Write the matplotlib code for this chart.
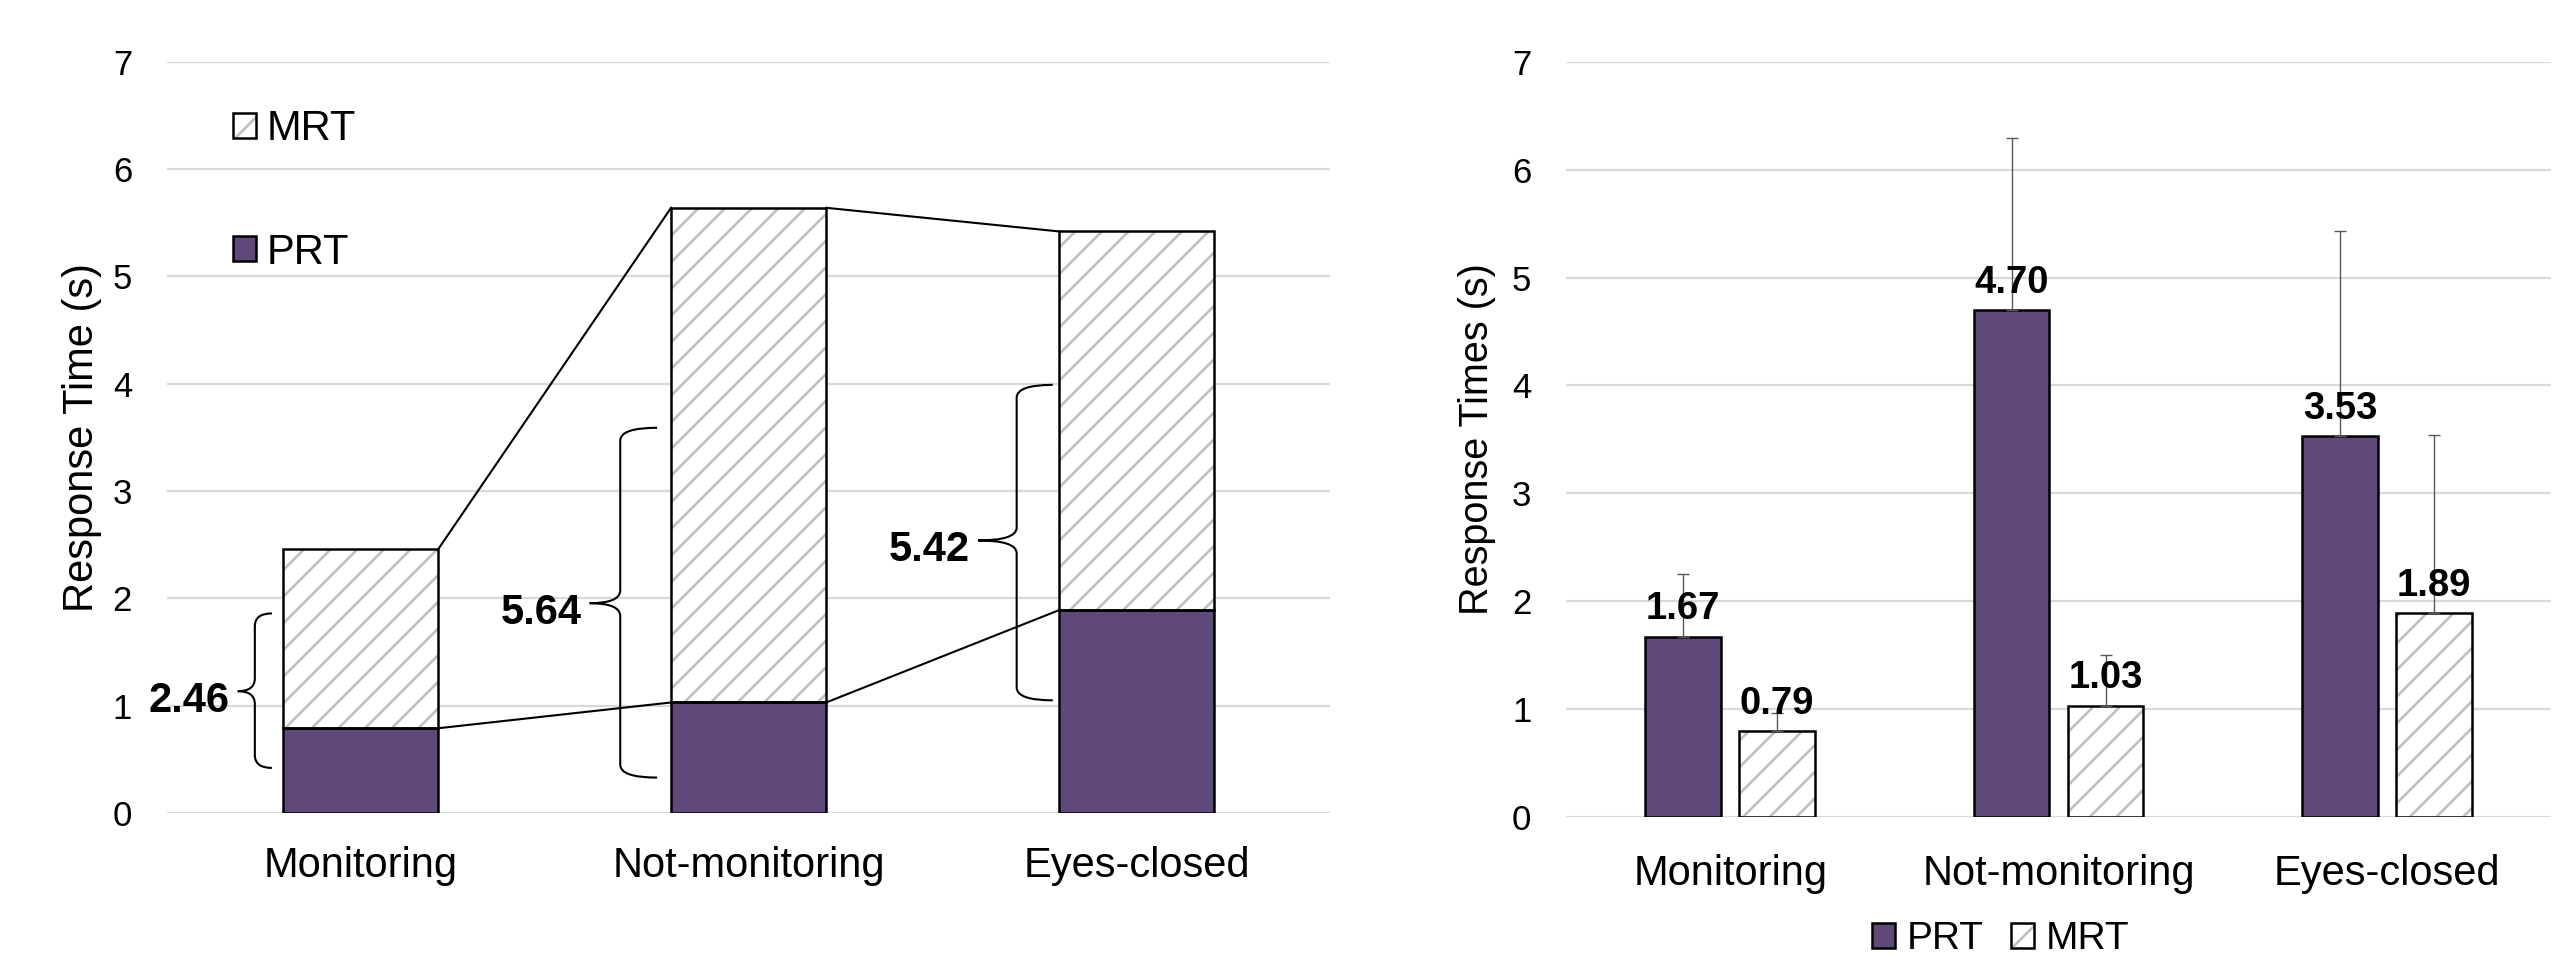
import numpy as np
import matplotlib
matplotlib.use('Agg')
import matplotlib.pyplot as plt
from matplotlib.patches import Patch, PathPatch
from matplotlib.path import Path
from matplotlib.legend_handler import HandlerTuple

DPI = 80
S = 100 / DPI   # sizes below were tuned for 100 dpi

plt.rcParams['font.family'] = ['Liberation Sans', 'DejaVu Sans']
plt.rcParams['hatch.linewidth'] = 2.4

categories = ['Monitoring', 'Not-monitoring', 'Eyes-closed']

# left panel: stacked bars (PRT at the bottom, MRT on top)
stack_prt = [0.79, 1.03, 1.89]
stack_total = [2.46, 5.64, 5.42]
total_labels = ['2.46', '5.64', '5.42']
brace_low = [0.42, 0.33, 1.05]
brace_high = [1.86, 3.59, 3.99]
brace_mid = [1.135, 1.955, 2.54]

# right panel: grouped bars with upper error bars
prt = [1.67, 4.70, 3.53]
mrt = [0.79, 1.03, 1.89]
prt_err = [0.58, 1.60, 1.90]
mrt_err = [0.17, 0.47, 1.65]

purple = '#5F497A'
hatch_gray = '#C0C0C0'
grid_gray = '#D9D9D9'

# brace geometry relative to the bar centre (layout only)
brace_line = [-0.273, -0.331, -0.309]
brace_hook = [-0.229, -0.236, -0.216]
brace_tip = [-0.317, -0.41, -0.408]


def style_axis(ax, ylabel, ylabel_x, ylabel_size, xpad):
    ax.set_xlim(-0.5, 2.5)
    ax.set_ylim(0, 7)
    ax.set_yticks(range(8))
    ax.set_xticks(range(3))
    ax.set_xticklabels(categories, fontsize=30 * S)
    ax.tick_params(axis='y', labelsize=25 * S, length=0, pad=25 * S)
    ax.tick_params(axis='x', length=0, pad=xpad * S)
    for s in ax.spines.values():
        s.set_visible(False)
    ax.grid(axis='y', color=grid_gray, lw=1.6 * S)
    ax.set_axisbelow(True)
    ax.set_ylabel(ylabel, fontsize=ylabel_size * S)
    ax.yaxis.set_label_coords(ylabel_x, 0.5)


def hatched_bar(ax, x, h, w, bottom=0):
    ax.bar(x, h, w, bottom=bottom, color='white', edgecolor=hatch_gray,
           hatch='/', lw=0, zorder=2)
    ax.bar(x, h, w, bottom=bottom, fill=False, edgecolor='black', lw=1.8 * S, zorder=3)


def draw_brace(ax, xl, xh, xt, y0, y1, ym, r=0.12):
    M, C, L = Path.MOVETO, Path.CURVE3, Path.LINETO
    verts = [(xh, y1), (xl, y1), (xl, y1 - r), (xl, ym + r), (xl, ym), (xt, ym),
             (xt, ym), (xl, ym), (xl, ym - r), (xl, y0 + r), (xl, y0), (xh, y0)]
    codes = [M, C, C, L, C, C, M, C, C, L, C, C]
    ax.add_patch(PathPatch(Path(verts, codes), fill=False, lw=1.5 * S,
                           edgecolor='black', zorder=4))


fig = plt.figure(figsize=(2566 / DPI, 955 / DPI), dpi=DPI)
ax1 = fig.add_axes([0.065, 0.1487, 0.4535, 0.7865])
ax2 = fig.add_axes([0.6103, 0.1449, 0.3839, 0.7901])

# ---- left panel
x = np.arange(3)
bw = 0.40
stack_mrt = np.array(stack_total) - np.array(stack_prt)
ax1.bar(x, stack_prt, bw, color=purple, edgecolor='black', lw=1.8 * S, zorder=3)
hatched_bar(ax1, x, stack_mrt, bw, bottom=stack_prt)

for i in range(2):
    ax1.plot([x[i] + bw / 2, x[i + 1] - bw / 2], [stack_total[i], stack_total[i + 1]],
             color='black', lw=1.5 * S, zorder=4)
    ax1.plot([x[i] + bw / 2, x[i + 1] - bw / 2], [stack_prt[i], stack_prt[i + 1]],
             color='black', lw=1.5 * S, zorder=4)

for i in range(3):
    draw_brace(ax1, x[i] + brace_line[i], x[i] + brace_hook[i], x[i] + brace_tip[i],
               brace_low[i], brace_high[i], brace_mid[i])
    ax1.annotate(total_labels[i], (x[i] + brace_tip[i], brace_mid[i]),
                 xytext=(-6 * S, -15 * S), textcoords='offset points', ha='right',
                 va='baseline', fontsize=30 * S, fontweight='bold')

style_axis(ax1, 'Response Time (s)', -0.056, 30, 23.5)

h_mrt = (Patch(facecolor='white', edgecolor=hatch_gray, hatch='/', lw=0),
         Patch(facecolor='none', edgecolor='black', lw=1.8 * S))
h_prt = Patch(facecolor=purple, edgecolor='black', lw=1.8 * S)
ax1.legend([h_mrt, h_prt], ['MRT', 'PRT'], handler_map={tuple: HandlerTuple(ndivide=1)},
           loc='upper left', bbox_to_anchor=(0.0568, 0.937), frameon=False,
           fontsize=30 * S, handlelength=0.55, handleheight=0.55, handletextpad=0.26,
           labelspacing=2.0, borderpad=0, borderaxespad=0)

# ---- right panel
w = 0.23
off = 0.143
ax2.bar(x - off, prt, w, color=purple, edgecolor='black', lw=1.8 * S, zorder=3)
hatched_bar(ax2, x + off, mrt, w)
ax2.errorbar(x - off, prt, yerr=[np.zeros(3), prt_err], fmt='none', ecolor='#595959',
             elinewidth=1 * S, capsize=4 * S, capthick=1 * S, zorder=3.5)
ax2.errorbar(x + off, mrt, yerr=[np.zeros(3), mrt_err], fmt='none', ecolor='#595959',
             elinewidth=1 * S, capsize=4 * S, capthick=1 * S, zorder=3.5)
for xs, vals in [(x - off, prt), (x + off, mrt)]:
    for xi, v in zip(xs, vals):
        ax2.annotate(f'{v:.2f}', (xi, v), xytext=(0, 12.5 * S), textcoords='offset points',
                     ha='center', va='baseline', fontsize=27.5 * S, fontweight='bold',
                     zorder=5)

style_axis(ax2, 'Response Times (s)', -0.071, 28.5, 27)

fig.legend([h_prt, h_mrt], ['PRT', 'MRT'], handler_map={tuple: HandlerTuple(ndivide=1)},
           loc='center', bbox_to_anchor=(0.7796, 0.0168), ncol=2, frameon=False,
           fontsize=28 * S, handlelength=0.6, handleheight=0.6, handletextpad=0.3,
           columnspacing=0.7, borderpad=0)

fig.savefig('out.png', dpi=DPI)
